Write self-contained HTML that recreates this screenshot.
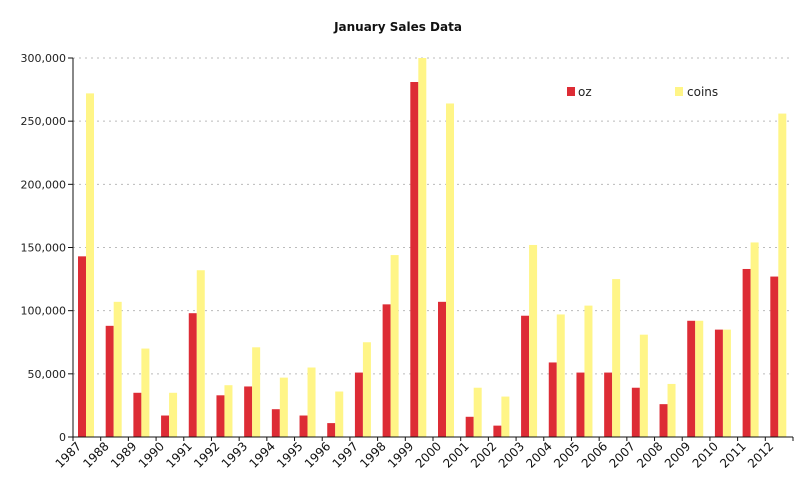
<!DOCTYPE html>
<html><head><meta charset="utf-8"><style>
html,body{margin:0;padding:0;background:#fff;}
svg{display:block;font-family:"DejaVu Sans","Liberation Sans",sans-serif;}
</style></head><body>
<svg id="chart" width="800" height="494">
<text x="398" y="31" text-anchor="middle" font-size="12" font-weight="bold" fill="#111">January Sales Data</text>
<g id="grid"></g>
<g id="bars"></g>
<g id="axes"></g>
<g>
<g><rect x="567" y="87" width="8" height="9" fill="#dd2c35"/><text x="578" y="96" font-size="12" fill="#222">oz</text></g>
<g><rect x="675" y="87" width="8" height="9" fill="#fff587"/><text x="687" y="96" font-size="12" fill="#222">coins</text></g>
</g>
</svg>
<script>
const categories=["1987","1988","1989","1990","1991","1992","1993","1994","1995","1996","1997","1998","1999","2000","2001","2002","2003","2004","2005","2006","2007","2008","2009","2010","2011","2012"];
const ozValues=[143000,88000,35000,17000,98000,33000,40000,22000,17000,11000,51000,105000,281000,107000,16000,9000,96000,59000,51000,51000,39000,26000,92000,85000,133000,127000];
const coinValues=[272000,107000,70000,35000,132000,41000,71000,47000,55000,36000,75000,144000,300000,264000,39000,32000,152000,97000,104000,125000,81000,42000,92000,85000,154000,256000];
const yTicks=[0,50000,100000,150000,200000,250000,300000];
const yTickLabels=["0","50,000","100,000","150,000","200,000","250,000","300,000"];

const NS="http://www.w3.org/2000/svg";
const L=73,R=793,T=58,B=437,yMax=300000;
const step=(R-L)/categories.length;
const y=v=>B-(v/yMax)*(B-T);
const x=i=>L+i*step;
function mk(tag,attrs,parent){const e=document.createElementNS(NS,tag);for(const k in attrs)e.setAttribute(k,attrs[k]);parent.appendChild(e);return e;}
const grid=document.getElementById('grid'),bars=document.getElementById('bars'),axes=document.getElementById('axes');
yTicks.forEach((t,i)=>{
  if(t>0){const g=mk('line',{x1:L,x2:R,y1:y(t),y2:y(t),stroke:'#bbb','stroke-dasharray':'2,4'},grid);
  
  }
  mk('line',{x1:L-5,x2:L,y1:y(t),y2:y(t),stroke:'#111'},axes);
  const tx=mk('text',{x:L-7,y:y(t)+4,'text-anchor':'end','font-size':'11',fill:'#222'},axes);
  tx.textContent=yTickLabels[i];
  
  
});
categories.forEach((c,i)=>{
  const x0=x(i)+5,w=8;
  const r=mk('rect',{x:x0,y:y(ozValues[i]),width:w,height:B-y(ozValues[i]),fill:'#dd2c35'},bars);
  
  
  const r2=mk('rect',{x:x0+w,y:y(coinValues[i]),width:w,height:B-y(coinValues[i]),fill:'#fff587'},bars);
  
  
  mk('line',{x1:x(i),x2:x(i),y1:B,y2:B+4,stroke:'#111'},axes);
  const tx=mk('text',{x:x(i)+9,y:B+10,'text-anchor':'end','font-size':'12',fill:'#111',transform:`rotate(-45 ${x(i)+9} ${B+10})`},axes);
  tx.textContent=c;
  
  
});
mk('line',{x1:R,x2:R,y1:B,y2:B+4,stroke:'#111'},axes);
const ya=mk('line',{x1:L,x2:L,y1:T,y2:B,stroke:'#111'},axes);


const xa=mk('line',{x1:L,x2:R,y1:B,y2:B,stroke:'#111'},axes);


</script>
</body></html>
